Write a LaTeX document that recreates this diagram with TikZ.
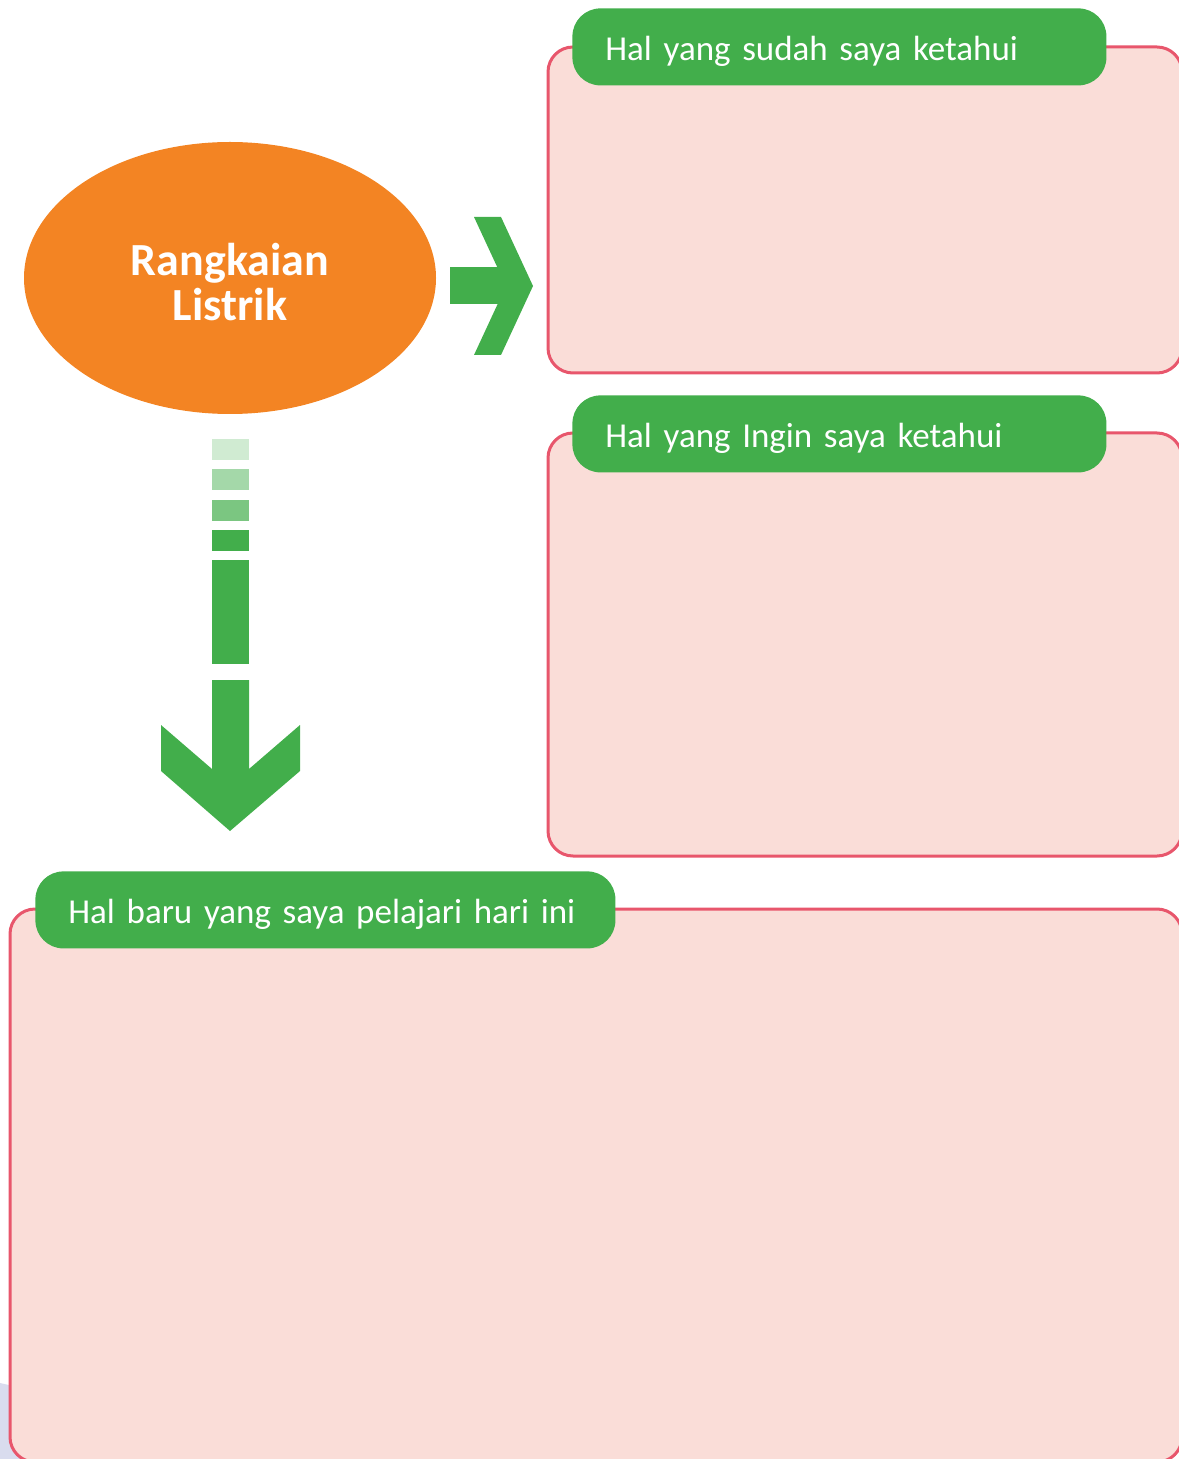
\documentclass[tikz,border=0pt]{standalone}
\usepackage{fontspec}
\setmainfont{Carlito}
\usetikzlibrary{shapes.geometric}
\definecolor{boxgreen}{RGB}{66, 174, 75}
\definecolor{topicorange}{RGB}{243, 132, 35}
\definecolor{panelpink}{RGB}{250, 221, 216}
\definecolor{panelline}{RGB}{232, 86, 108}
\definecolor{cornerlilac}{RGB}{217, 220, 238}

\begin{document}
\begin{tikzpicture}[x=0.5pt, y=-0.5pt,
  panel/.style={fill=panelpink, draw=panelline, line width=1.5pt, rounded corners=12.5pt},
  header/.style={fill=boxgreen, text=white, rounded corners=14pt, anchor=north west,
    minimum height=38.5pt, inner xsep=16.5pt, align=left,
    text height=16pt, text depth=2.5pt,
    font=\fontsize{17.5}{20}\selectfont}]

\useasboundingbox (0,0) rectangle (1178,1459);

% Lilac patch behind the bottom panel
\fill[cornerlilac] (0,1383) -- (40,1392) -- (40,1459) -- (0,1459) -- cycle;

% Pink panels (they run off the right edge)
\draw[panel] (548,47) rectangle (1182,373);
\draw[panel] (548,433) rectangle (1182,856);
\draw[panel] (10,909) rectangle (1182,1462);

% Green headers on top
\node[header, text width=234pt] (hdrKnown) at (572,8) {Hal yang sudah saya ketahui};
\node[header, text width=234pt] (hdrWant) at (572,395) {Hal yang Ingin saya ketahui};
\node[header, text width=257pt] (hdrNew) at (35,871) {Hal baru yang saya pelajari hari ini};

% Topic ellipse
\node[ellipse, fill=topicorange, inner sep=0pt,
  minimum width=206pt, minimum height=136pt] (topic) at (230,278) {};
\node[text=white, align=center, yshift=-2pt,
  font=\bfseries\fontsize{23}{22.5}\selectfont] (topicText) at (topic.center) {Rangkaian\\Listrik};

% Arrow to the right
\fill[boxgreen] (450,267) rectangle (506,304);
\fill[boxgreen] (474,217) -- (501,217) -- (533,286) -- (501,355) -- (474,355) -- (506,286) -- cycle;

% Fading squares, then the arrow going down
\foreach \y/\c in {439/25, 469/48, 500/70, 530/100} {
  \fill[boxgreen!\c] (212,\y) rectangle (249,\y+21);
}
\fill[boxgreen] (212,560) rectangle (249,664);
\fill[boxgreen] (212,680) -- (249,680) -- (249,769) -- (300,725) -- (300,771)
  -- (230,831) -- (161,771) -- (161,725) -- (212,769) -- cycle;

\end{tikzpicture}
\end{document}
